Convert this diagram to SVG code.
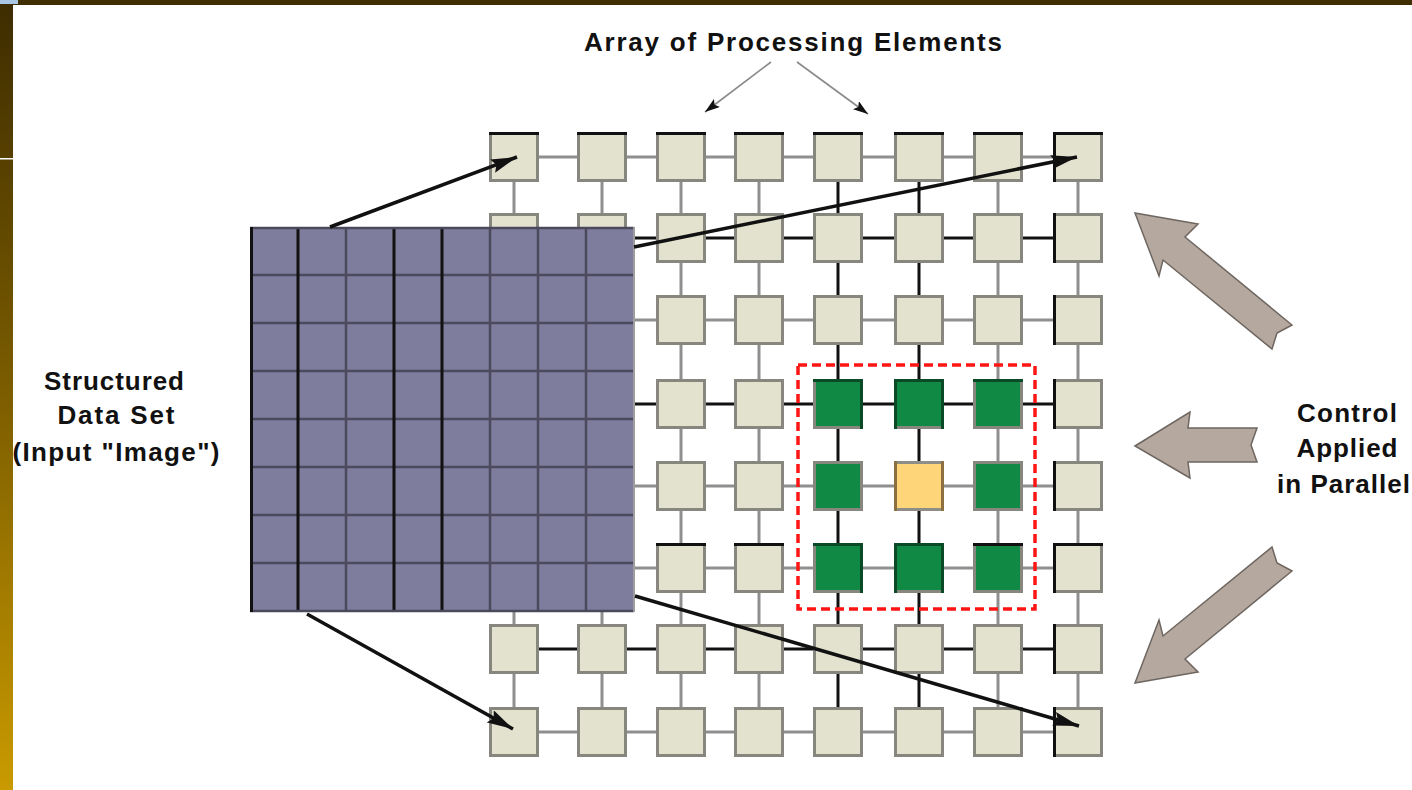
<svg xmlns="http://www.w3.org/2000/svg" width="1412" height="790" viewBox="0 0 1412 790">
<defs>
  <linearGradient id="strip" x1="0" y1="0" x2="0" y2="1">
    <stop offset="0" stop-color="#3d2c00"/>
    <stop offset="0.5" stop-color="#7c5d00"/>
    <stop offset="1" stop-color="#c99a00"/>
  </linearGradient>
  <marker id="ah" markerUnits="userSpaceOnUse" markerWidth="28" markerHeight="14" refX="26" refY="7" orient="auto">
    <path d="M0,0 L26,7 L0,14 L4,7 z" fill="#111"/>
  </marker>
  <marker id="ahs" markerUnits="userSpaceOnUse" markerWidth="16" markerHeight="10" refX="15" refY="5" orient="auto">
    <path d="M0,0 L15,5 L0,10 L3,5 z" fill="#111"/>
  </marker>
</defs>
<style>
  .pe { fill:#e3e2cf; stroke:#88877f; stroke-width:3; }
  .pg { fill:#0f8943; stroke:#88877f; stroke-width:3; }
  .py { fill:#fed679; stroke:#8e8d88; stroke-width:3; }
  .edk { stroke:#111; stroke-width:3; }
  .edg { stroke:#0a4a27; stroke-width:3; }
  .edy { stroke:#8c7040; stroke-width:3; }
  .lg { stroke:#8f8f8f; stroke-width:3; }
  .lk { stroke:#111; stroke-width:3; }
  .big { stroke:#111; stroke-width:3.5; fill:none; marker-end:url(#ah); }
  .thin { stroke:#8a8a8a; stroke-width:1.6; fill:none; marker-end:url(#ahs); }
  .blk { fill:#b5a89f; stroke:#6e6660; stroke-width:1.5; stroke-linejoin:miter; }
  .t { font-family:"Liberation Sans", Arial, sans-serif; font-weight:bold; font-size:26px; fill:#111; }
  .dv { stroke:#4b495c; stroke-width:2.5; }
  .dk { stroke:#111; stroke-width:3; }
</style>

<!-- slide frame -->
<rect x="0" y="0" width="1412" height="790" fill="#ffffff"/>
<rect x="0" y="0" width="1412" height="5" fill="#3f2f00"/>
<rect x="0" y="0" width="13" height="790" fill="url(#strip)"/>
<rect x="0" y="158" width="13" height="1.5" fill="#ffffff"/>
<rect x="0" y="0" width="18" height="4" fill="#a9c6e4"/>

<!-- connectors: grid links -->
<g id="connectors">
  <line class="lg" x1="514" y1="157" x2="1078" y2="157"/>
  <line class="lk" x1="514" y1="238" x2="1078" y2="238"/>
  <line class="lg" x1="514" y1="320" x2="1078" y2="320"/>
  <line class="lk" x1="514" y1="404" x2="1078" y2="404"/>
  <line class="lg" x1="514" y1="486" x2="1078" y2="486"/>
  <line class="lg" x1="514" y1="568" x2="1078" y2="568"/>
  <line class="lk" x1="514" y1="649" x2="1078" y2="649"/>
  <line class="lg" x1="514" y1="732" x2="1078" y2="732"/>
  <line class="lg" x1="514" y1="157" x2="514" y2="732"/>
  <line class="lg" x1="602" y1="157" x2="602" y2="732"/>
  <line class="lg" x1="681" y1="157" x2="681" y2="732"/>
  <line class="lg" x1="759" y1="157" x2="759" y2="732"/>
  <line class="lk" x1="838" y1="157" x2="838" y2="732"/>
  <line class="lk" x1="919" y1="157" x2="919" y2="732"/>
  <line class="lg" x1="998" y1="157" x2="998" y2="732"/>
  <line class="lg" x1="1078" y1="157" x2="1078" y2="732"/>
</g>

<!-- row 1 -->
<g id="pe-r1c1"><rect class="pe" x="490.5" y="133.5" width="47" height="47"/><line class="edk" x1="489" y1="133.5" x2="539" y2="133.5"/></g>
<g id="pe-r1c2"><rect class="pe" x="578.5" y="133.5" width="47" height="47"/><line class="edk" x1="577" y1="133.5" x2="627" y2="133.5"/></g>
<g id="pe-r1c3"><rect class="pe" x="657.5" y="133.5" width="47" height="47"/><line class="edk" x1="656" y1="133.5" x2="706" y2="133.5"/></g>
<g id="pe-r1c4"><rect class="pe" x="735.5" y="133.5" width="47" height="47"/><line class="edk" x1="734" y1="133.5" x2="784" y2="133.5"/></g>
<g id="pe-r1c5"><rect class="pe" x="814.5" y="133.5" width="47" height="47"/><line class="edk" x1="813" y1="133.5" x2="863" y2="133.5"/></g>
<g id="pe-r1c6"><rect class="pe" x="895.5" y="133.5" width="47" height="47"/><line class="edk" x1="894" y1="133.5" x2="944" y2="133.5"/></g>
<g id="pe-r1c7"><rect class="pe" x="974.5" y="133.5" width="47" height="47"/><line class="edk" x1="973" y1="133.5" x2="1023" y2="133.5"/></g>
<g id="pe-r1c8"><rect class="pe" x="1054.5" y="133.5" width="47" height="47"/><line class="edk" x1="1053" y1="133.5" x2="1103" y2="133.5"/><line class="edk" x1="1054.5" y1="132" x2="1054.5" y2="182"/></g>
<!-- row 2 -->
<g id="pe-r2c1"><rect class="pe" x="490.5" y="214.5" width="47" height="47"/></g>
<g id="pe-r2c2"><rect class="pe" x="578.5" y="214.5" width="47" height="47"/></g>
<g id="pe-r2c3"><rect class="pe" x="657.5" y="214.5" width="47" height="47"/></g>
<g id="pe-r2c4"><rect class="pe" x="735.5" y="214.5" width="47" height="47"/></g>
<g id="pe-r2c5"><rect class="pe" x="814.5" y="214.5" width="47" height="47"/></g>
<g id="pe-r2c6"><rect class="pe" x="895.5" y="214.5" width="47" height="47"/></g>
<g id="pe-r2c7"><rect class="pe" x="974.5" y="214.5" width="47" height="47"/></g>
<g id="pe-r2c8"><rect class="pe" x="1054.5" y="214.5" width="47" height="47"/><line class="edk" x1="1054.5" y1="213" x2="1054.5" y2="263"/></g>
<!-- row 3 -->
<g id="pe-r3c1"><rect class="pe" x="490.5" y="296.5" width="47" height="47"/></g>
<g id="pe-r3c2"><rect class="pe" x="578.5" y="296.5" width="47" height="47"/></g>
<g id="pe-r3c3"><rect class="pe" x="657.5" y="296.5" width="47" height="47"/></g>
<g id="pe-r3c4"><rect class="pe" x="735.5" y="296.5" width="47" height="47"/></g>
<g id="pe-r3c5"><rect class="pe" x="814.5" y="296.5" width="47" height="47"/></g>
<g id="pe-r3c6"><rect class="pe" x="895.5" y="296.5" width="47" height="47"/></g>
<g id="pe-r3c7"><rect class="pe" x="974.5" y="296.5" width="47" height="47"/></g>
<g id="pe-r3c8"><rect class="pe" x="1054.5" y="296.5" width="47" height="47"/><line class="edk" x1="1054.5" y1="295" x2="1054.5" y2="345"/></g>
<!-- row 4 -->
<g id="pe-r4c1"><rect class="pe" x="490.5" y="380.5" width="47" height="47"/></g>
<g id="pe-r4c2"><rect class="pe" x="578.5" y="380.5" width="47" height="47"/></g>
<g id="pe-r4c3"><rect class="pe" x="657.5" y="380.5" width="47" height="47"/></g>
<g id="pe-r4c4"><rect class="pe" x="735.5" y="380.5" width="47" height="47"/></g>
<g id="pe-r4c5"><rect class="pg" x="814.5" y="380.5" width="47" height="47"/><polyline class="edg" fill="none" points="813,380.5 861.5,380.5 861.5,429"/></g>
<g id="pe-r4c6"><rect class="pg" x="895.5" y="380.5" width="47" height="47"/><polyline class="edg" fill="none" points="895.5,429 895.5,380.5 942.5,380.5 942.5,429"/></g>
<g id="pe-r4c7"><rect class="pg" x="974.5" y="380.5" width="47" height="47"/><line class="edg" x1="973" y1="380.5" x2="1023" y2="380.5"/></g>
<g id="pe-r4c8"><rect class="pe" x="1054.5" y="380.5" width="47" height="47"/><line class="edk" x1="1054.5" y1="379" x2="1054.5" y2="429"/></g>
<!-- row 5 -->
<g id="pe-r5c1"><rect class="pe" x="490.5" y="462.5" width="47" height="47"/></g>
<g id="pe-r5c2"><rect class="pe" x="578.5" y="462.5" width="47" height="47"/></g>
<g id="pe-r5c3"><rect class="pe" x="657.5" y="462.5" width="47" height="47"/></g>
<g id="pe-r5c4"><rect class="pe" x="735.5" y="462.5" width="47" height="47"/></g>
<g id="pe-r5c5"><rect class="pg" x="814.5" y="462.5" width="47" height="47"/></g>
<g id="pe-r5c6"><rect class="py" x="895.5" y="462.5" width="47" height="47"/><line class="edy" x1="895.5" y1="461" x2="895.5" y2="511"/><line class="edy" x1="942.5" y1="461" x2="942.5" y2="511"/></g>
<g id="pe-r5c7"><rect class="pg" x="974.5" y="462.5" width="47" height="47"/></g>
<g id="pe-r5c8"><rect class="pe" x="1054.5" y="462.5" width="47" height="47"/><line class="edk" x1="1054.5" y1="461" x2="1054.5" y2="511"/></g>
<!-- row 6 -->
<g id="pe-r6c1"><rect class="pe" x="490.5" y="544.5" width="47" height="47"/><line class="edk" x1="489" y1="544.5" x2="539" y2="544.5"/></g>
<g id="pe-r6c2"><rect class="pe" x="578.5" y="544.5" width="47" height="47"/><line class="edk" x1="577" y1="544.5" x2="627" y2="544.5"/></g>
<g id="pe-r6c3"><rect class="pe" x="657.5" y="544.5" width="47" height="47"/><line class="edk" x1="656" y1="544.5" x2="706" y2="544.5"/></g>
<g id="pe-r6c4"><rect class="pe" x="735.5" y="544.5" width="47" height="47"/><line class="edk" x1="734" y1="544.5" x2="784" y2="544.5"/></g>
<g id="pe-r6c5"><rect class="pg" x="814.5" y="544.5" width="47" height="47"/><polyline class="edg" fill="none" points="813,544.5 861.5,544.5 861.5,593"/></g>
<g id="pe-r6c6"><rect class="pg" x="895.5" y="544.5" width="47" height="47"/><polyline class="edg" fill="none" points="895.5,593 895.5,544.5 942.5,544.5 942.5,593"/></g>
<g id="pe-r6c7"><rect class="pg" x="974.5" y="544.5" width="47" height="47"/><line class="edk" x1="973" y1="544.5" x2="1023" y2="544.5"/></g>
<g id="pe-r6c8"><rect class="pe" x="1054.5" y="544.5" width="47" height="47"/><line class="edk" x1="1053" y1="544.5" x2="1103" y2="544.5"/><line class="edk" x1="1054.5" y1="543" x2="1054.5" y2="593"/></g>
<!-- row 7 -->
<g id="pe-r7c1"><rect class="pe" x="490.5" y="625.5" width="47" height="47"/></g>
<g id="pe-r7c2"><rect class="pe" x="578.5" y="625.5" width="47" height="47"/></g>
<g id="pe-r7c3"><rect class="pe" x="657.5" y="625.5" width="47" height="47"/></g>
<g id="pe-r7c4"><rect class="pe" x="735.5" y="625.5" width="47" height="47"/></g>
<g id="pe-r7c5"><rect class="pe" x="814.5" y="625.5" width="47" height="47"/></g>
<g id="pe-r7c6"><rect class="pe" x="895.5" y="625.5" width="47" height="47"/></g>
<g id="pe-r7c7"><rect class="pe" x="974.5" y="625.5" width="47" height="47"/></g>
<g id="pe-r7c8"><rect class="pe" x="1054.5" y="625.5" width="47" height="47"/><line class="edk" x1="1054.5" y1="624" x2="1054.5" y2="674"/></g>
<!-- row 8 -->
<g id="pe-r8c1"><rect class="pe" x="490.5" y="708.5" width="47" height="47"/></g>
<g id="pe-r8c2"><rect class="pe" x="578.5" y="708.5" width="47" height="47"/></g>
<g id="pe-r8c3"><rect class="pe" x="657.5" y="708.5" width="47" height="47"/></g>
<g id="pe-r8c4"><rect class="pe" x="735.5" y="708.5" width="47" height="47"/></g>
<g id="pe-r8c5"><rect class="pe" x="814.5" y="708.5" width="47" height="47"/></g>
<g id="pe-r8c6"><rect class="pe" x="895.5" y="708.5" width="47" height="47"/></g>
<g id="pe-r8c7"><rect class="pe" x="974.5" y="708.5" width="47" height="47"/></g>
<g id="pe-r8c8"><rect class="pe" x="1054.5" y="708.5" width="47" height="47"/><line class="edk" x1="1054.5" y1="707" x2="1054.5" y2="757"/></g>

<!-- neighbourhood highlight -->
<g id="neighbourhood">
  <rect x="798" y="365" width="237" height="244" fill="none" stroke="#ff1414" stroke-width="3.5" stroke-dasharray="9 5"/>
</g>

<!-- structured data set -->
<g id="data-set">
  <rect x="250" y="227" width="384" height="385" fill="#7f7d9d"/>
  <line class="dv" x1="250" y1="275" x2="634" y2="275"/>
  <line class="dv" x1="250" y1="323" x2="634" y2="323"/>
  <line class="dv" x1="250" y1="371" x2="634" y2="371"/>
  <line class="dv" x1="250" y1="419" x2="634" y2="419"/>
  <line class="dv" x1="250" y1="467" x2="634" y2="467"/>
  <line class="dv" x1="250" y1="515" x2="634" y2="515"/>
  <line class="dv" x1="250" y1="563" x2="634" y2="563"/>
  <line class="dv" x1="346" y1="227" x2="346" y2="612"/>
  <line class="dv" x1="490" y1="227" x2="490" y2="612"/>
  <line class="dv" x1="538" y1="227" x2="538" y2="612"/>
  <line class="dv" x1="586" y1="227" x2="586" y2="612"/>
  <line class="dk" x1="298" y1="227" x2="298" y2="612"/>
  <line class="dk" x1="394" y1="227" x2="394" y2="612"/>
  <line class="dk" x1="442" y1="227" x2="442" y2="612"/>
  <line class="dv" x1="250" y1="228" x2="634" y2="228"/>
  <line class="dv" x1="250" y1="611" x2="634" y2="611"/>
  <line class="dk" x1="251.5" y1="227" x2="251.5" y2="612"/>
  <line stroke="#9d9d9d" stroke-width="2" x1="634" y1="227" x2="634" y2="612"/>
</g>

<!-- mapping arrows -->
<g id="mapping-arrows">
  <path class="big" d="M330,227 L517,157"/>
  <path class="big" d="M634,247 L1077,157"/>
  <path class="big" d="M307,614 L513,729"/>
  <path class="big" d="M635,596 L1079,726"/>
</g>

<!-- label pointers -->
<g id="label-pointers">
  <path class="thin" d="M771,62 L705,112"/>
  <path class="thin" d="M797,62 L868,114"/>
</g>

<!-- control arrows -->
<g id="control-arrows">
  <path class="blk" d="M1135,213 L1198,224 L1185,237 L1292,325 L1277,333 L1272,349 L1163,260 L1159,276 Z"/>
  <path class="blk" d="M1135,446 L1190,412 L1188,428 L1257,428 L1251,445 L1257,462 L1188,462 L1190,478 Z"/>
  <path class="blk" d="M1135,683 L1198,672 L1185,659 L1292,571 L1277,563 L1272,547 L1163,636 L1159,620 Z"/>
</g>

<!-- labels -->
<g id="labels">
  <text class="t" x="793" y="51" text-anchor="middle" textLength="418" lengthAdjust="spacing">Array  of  Processing  Elements</text>
  <text class="t" x="114" y="390" text-anchor="middle" textLength="140" lengthAdjust="spacing">Structured</text>
  <text class="t" x="116" y="424" text-anchor="middle" textLength="117" lengthAdjust="spacing">Data  Set</text>
  <text class="t" x="116" y="461" text-anchor="middle" textLength="207" lengthAdjust="spacing">(Input  "Image")</text>
  <text class="t" x="1347" y="422" text-anchor="middle" textLength="100" lengthAdjust="spacing">Control</text>
  <text class="t" x="1347" y="457" text-anchor="middle" textLength="101" lengthAdjust="spacing">Applied</text>
  <text class="t" x="1277" y="493" textLength="133" lengthAdjust="spacing">in  Parallel</text>
</g>
</svg>
